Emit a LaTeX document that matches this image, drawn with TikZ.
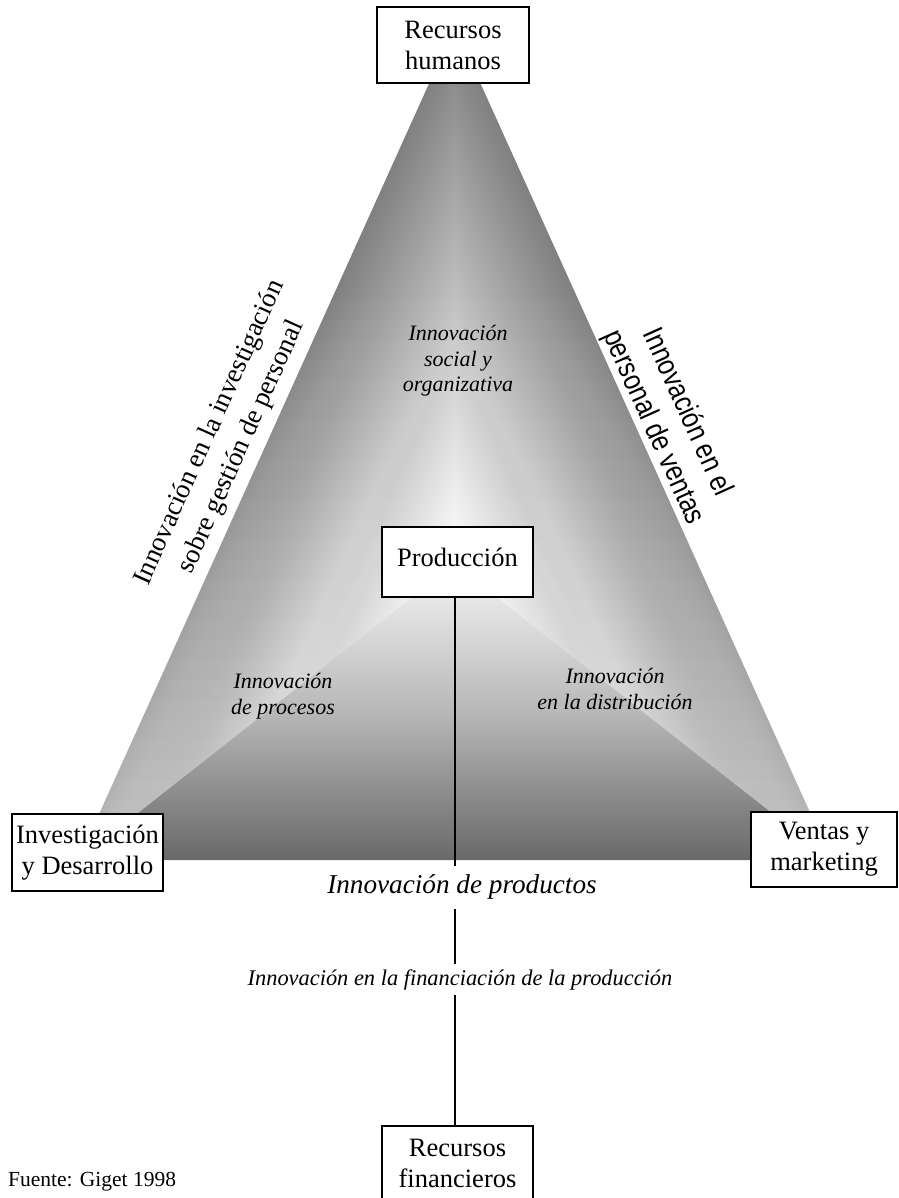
\documentclass[tikz,border=0pt]{standalone}
\usepackage{fontspec}
\setmainfont{Liberation Serif}
\newfontfamily\narrowsans[FakeStretch=0.84]{Liberation Sans}
\definecolor{edgegray}{gray}{0.5}
\definecolor{lowtop}{gray}{0.96}
\definecolor{lowmid}{gray}{0.72}
\definecolor{lowbot}{gray}{0.41}
\begin{document}
\begin{tikzpicture}[x=1pt,y=-1pt,
  box/.style={draw=black, line width=1.4pt, fill=white, align=center, inner sep=0pt,
    font=\fontsize{26.5}{31}\selectfont},
  spine/.style={line width=2.9pt, black},
  lab/.style={align=center, inner sep=0pt, font=\itshape\fontsize{22}{25.5}\selectfont},
]
\useasboundingbox (0,0) rectangle (898,1198);
\fill[white] (0,0) rectangle (898,1198);
\coordinate (A) at (454,25);
\coordinate (BL) at (78.4,860);
\coordinate (BR) at (831.7,860);
\coordinate (C) at (454.5,564);
\coordinate (sp) at (455,0);
% left part of the path gradient
\begin{scope}
  \clip (456,564) -- (455.5,25) -- (BL) -- cycle;
  \shade[transform canvas={shift={(C)},rotate=155.8}, left color=white, right color=edgegray]
    (0,-1000) rectangle (221.6,1000);
\end{scope}
% right part
\begin{scope}
  \clip (C) -- (A) -- (BR) -- cycle;
  \shade[transform canvas={shift={(C)},rotate=24.3}, left color=white, right color=edgegray]
    (0,-1000) rectangle (221.7,1000);
\end{scope}
% lightening towards the bottom
\begin{scope}
  \clip (A) -- (BL) -- (BR) -- cycle;
  \foreach \k in {1,...,28} {
    \pgfmathsetmacro\op{0.5/(28-0.5*(\k-1))}
    \fill[white, fill opacity=\op] (0,{300+20*(\k-1)}) rectangle (898,860);
  }
\end{scope}
% lower triangle
\shade[top color=lowtop, bottom color=lowbot, middle color=lowmid] (C) -- (BL) -- (BR) -- cycle;

% labels inside
\node (soc) [lab] at (458,361) {Innovación\\social y\\organizativa};
\node (proc) [lab] at (283,696) {Innovación\\de procesos};
\node (dist) [lab] at (615,689) {Innovación\\en la distribución};

% rotated side labels
\node (left) [align=center, inner sep=0pt, rotate=65.8, font=\fontsize{27}{35}\selectfont]
  at (226,440) {Innovación en la investigación\\sobre gestión de personal};
\node (right) [align=center, inner sep=0pt, rotate=-65.8, font=\narrowsans\fontsize{29.5}{37}\selectfont]
  at (670,420) {Innovación en el\\personal de ventas};

% bottom labels
\node (ip) [anchor=base, inner sep=0pt, font=\itshape\fontsize{27.2}{32}\selectfont]
  at (462,893) {Innovación de productos};
\node (ifp) [anchor=base, inner sep=0pt, font=\itshape\fontsize{22.4}{26}\selectfont]
  at (460,985) {Innovación en la financiación de la producción};
\node (src) [anchor=base west, inner sep=0pt, font=\fontsize{21.5}{25}\selectfont]
  at (8,1186) {Fuente: Giget 1998};

% boxes
\node (rh) [box, minimum width=152pt, minimum height=76pt] at (453,45) {Recursos\\humanos};
\node (prod) [box, minimum width=151pt, minimum height=70pt, text depth=10pt] at (457.5,562) {Producción};
\node (id) [box, minimum width=151pt, minimum height=77pt] at (87.5,852.5) {Investigación\\y Desarrollo};
\node (vm) [box, minimum width=146pt, minimum height=75pt] at (824,849.5) {Ventas y\\marketing};
\node (rf) [box, minimum width=151pt, minimum height=74pt] at (457.5,1163) {Recursos\\financieros};

% spine connectors
\draw[spine, shorten >=8pt] (prod.south -| sp) -- (ip.north -| sp);
\draw[spine, shorten <=10pt, shorten >=5.5pt] (ip.south -| sp) -- (ifp.north -| sp);
\draw[spine, shorten <=5.4pt] (ifp.south -| sp) -- (rf.north -| sp);
\draw[line width=1.4pt] (prod.south west) -- (prod.south east);
\draw[line width=1.4pt] (rf.north west) -- (rf.north east);
\end{tikzpicture}
\end{document}
